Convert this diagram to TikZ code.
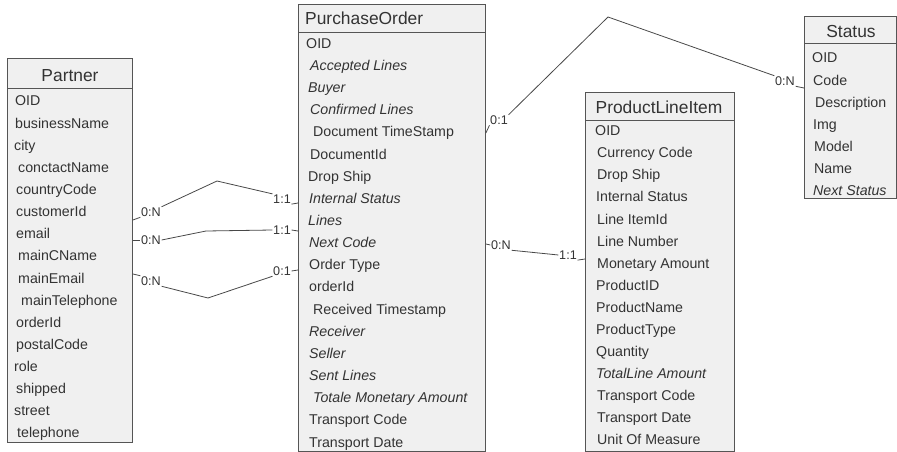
\documentclass[tikz,border=0pt]{standalone}
\usepackage{fontspec}
\setmainfont{Liberation Sans}
\definecolor{boxfill}{HTML}{F0F0F0}
\definecolor{boxline}{HTML}{555555}
\definecolor{ink}{HTML}{333333}
\definecolor{wire}{HTML}{484848}

\begin{document}
\begin{tikzpicture}[x=1pt,y=-1pt,
  entity/.style={draw=boxline, fill=boxfill, line width=0.9pt, anchor=north west, inner sep=0pt},
  attr/.style={anchor=base west, inner sep=0pt, text=ink, font=\fontsize{14.2}{16}\selectfont},
  title/.style={anchor=base, inner sep=0pt, text=ink, font=\fontsize{17.4}{20}\selectfont},
  card/.style={inner sep=0.6pt, text=ink, font=\fontsize{12.6}{14}\selectfont},
  conn/.style={draw=wire, line width=0.8pt},
  sep/.style={draw=boxline, line width=0.9pt}]
\useasboundingbox (0,0) rectangle (897,452);

% ---------- Partner ----------
\node[entity, minimum width=125pt, minimum height=384pt] (partner) at (7,58) {};
\draw[sep] (partner.west |- 0,88) -- (partner.east |- 0,88);
\node[title] (partner-t) at (70,81.5) {Partner};
\foreach \x/\t [count=\i] in {15/OID,15/businessName,14/city,18/conctactName,16/countryCode,
  16/customerId,16/email,18/mainCName,18/mainEmail,21/mainTelephone,16/orderId,16/postalCode,
  14/role,16/shipped,14/street,17/telephone}
  \node[attr] (partner-\i) at (\x,{106+22.13*(\i-1)}) {\t};

% ---------- PurchaseOrder ----------
\node[entity, minimum width=187pt, minimum height=447pt] (po) at (298,4) {};
\draw[sep] (po.west |- 0,32) -- (po.east |- 0,32);
\node[title, anchor=base west] (po-t) at (305,25) {PurchaseOrder};
\foreach \x/\t [count=\i] in {306/OID,310/{\itshape Accepted Lines},308/{\itshape Buyer},
  310/{\itshape Confirmed Lines},313/Document TimeStamp,310/DocumentId,308/Drop Ship,
  309/{\itshape Internal Status},308/{\itshape Lines},309/{\itshape Next Code},309/Order Type,
  309/orderId,313/Received Timestamp,309/{\itshape Receiver},309/{\itshape Seller},
  309/{\itshape Sent Lines},313/{\itshape Totale Monetary Amount},309/Transport Code,309/Transport Date}
  \node[attr] (po-\i) at (\x,{48.3+22.15*(\i-1)}) {\t};

% ---------- ProductLineItem ----------
\node[entity, minimum width=149pt, minimum height=359pt] (pli) at (585,92) {};
\draw[sep] (pli.west |- 0,120) -- (pli.east |- 0,120);
\node[title] (pli-t) at (659,113) {ProductLineItem};
\foreach \x/\t [count=\i] in {595/OID,597/Currency Code,597/Drop Ship,596/Internal Status,
  597/Line ItemId,597/Line Number,597/Monetary Amount,596/ProductID,596/ProductName,
  596/ProductType,596/Quantity,596/{\itshape TotalLine Amount},597/Transport Code,
  597/Transport Date,597/Unit Of Measure}
  \node[attr] (pli-\i) at (\x,{135.7+22.09*(\i-1)}) {\t};

% ---------- Status ----------
\node[entity, minimum width=92pt, minimum height=182pt] (status) at (804,16) {};
\draw[sep] (status.west |- 0,43) -- (status.east |- 0,43);
\node[title] (status-t) at (851,38) {Status};
\foreach \x/\t [count=\i] in {812/OID,813/Code,815/Description,813/Img,814/Model,814/Name,
  813/{\itshape Next Status}}
  \node[attr] (status-\i) at (\x,{63+22*(\i-1)}) {\t};

% ---------- Partner -- PurchaseOrder (upper) ----------
\node[card] (c1a) at (151,212) {0:N};
\node[card] (c1b) at (282,199) {1:1};
\coordinate (c1k) at (217,181);
\draw[conn] (partner.east |- 0,220) -- (c1a.south west);
\draw[conn] (c1a.north east) -- (c1k) -- (c1b.north west);
\draw[conn] (c1b.south east) -- (po.west |- 0,203);

% ---------- Partner -- PurchaseOrder (middle) ----------
\node[card] (c2a) at (151,240) {0:N};
\node[card] (c2b) at (282,230) {1:1};
\coordinate (c2k) at (206,231);
\draw[conn] (partner.east |- 0,240) -- (c2a.west);
\draw[conn] (c2a.east) -- (c2k) -- (c2b.west);
\draw[conn] (c2b.east) -- (po.west |- 0,231);

% ---------- Partner -- PurchaseOrder (lower) ----------
\node[card] (c3a) at (151,281) {0:N};
\node[card] (c3b) at (282,271) {0:1};
\coordinate (c3k) at (208,298);
\draw[conn] (partner.east |- 0,274) -- (c3a.north west);
\draw[conn] (c3a.south east) -- (c3k) -- (c3b.south west);
\draw[conn] (c3b.east) -- (po.west |- 0,270);

% ---------- PurchaseOrder -- ProductLineItem ----------
\node[card] (c4a) at (501,245) {0:N};
\node[card] (c4b) at (568,255) {1:1};
\draw[conn] (po.east |- 0,244) -- (c4a.west);
\draw[conn] (c4a.south east) -- (c4b.west);
\draw[conn] (c4b.south east) -- (pli.west |- 0,259);

% ---------- PurchaseOrder -- Status ----------
\node[card] (c5a) at (499,120) {0:1};
\node[card] (c5b) at (785,81) {0:N};
\coordinate (c5k) at (608,17);
\draw[conn] (po.east |- 0,133) -- (c5a.south west);
\draw[conn] (c5a.north east) -- (c5k) -- (c5b.north west);
\draw[conn] (c5b.south east) -- (status.west |- 0,88);
\end{tikzpicture}
\end{document}
